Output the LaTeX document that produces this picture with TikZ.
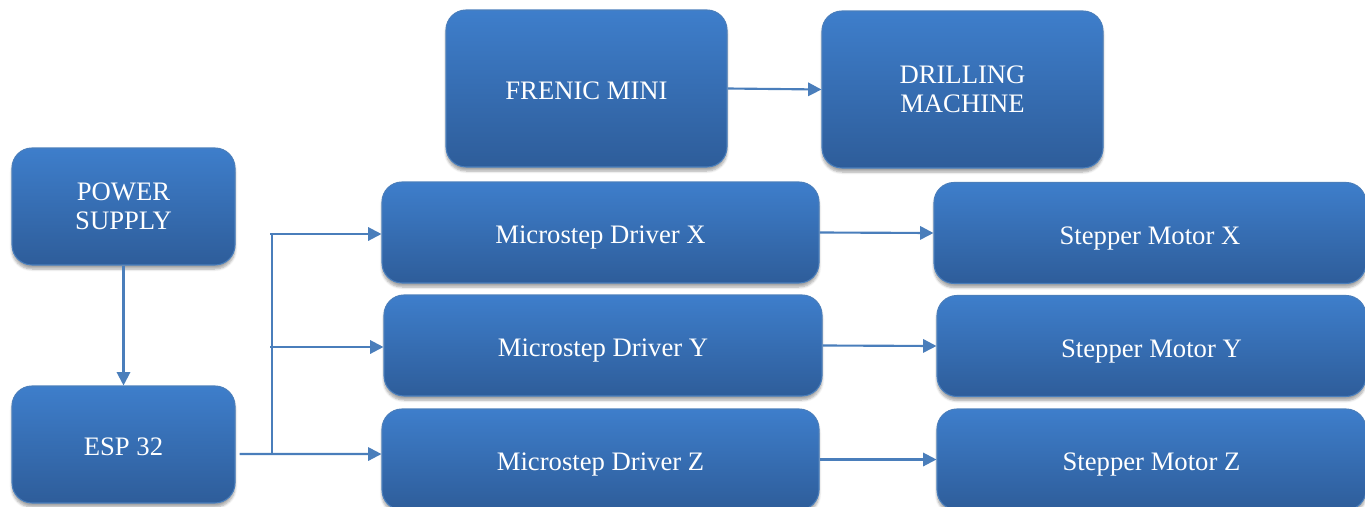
\documentclass[tikz,border=0pt]{standalone}
\usepackage{fontspec}
\setmainfont{Liberation Serif}
\usetikzlibrary{arrows.meta,shadows.blur}
\definecolor{boxtop}{HTML}{3E7ECB}
\definecolor{boxbot}{HTML}{2E5D9A}
\definecolor{boxline}{HTML}{4A7EBB}
\definecolor{conn}{HTML}{4A7EBB}
\tikzset{
  box/.style={rectangle, rounded corners=15pt, draw=boxline, line width=0.8pt,
    top color=boxtop, bottom color=boxbot, text=white, align=center,
    font=\fontsize{20}{22}\selectfont, inner sep=0pt,
    blur shadow={shadow xshift=0pt, shadow yshift=-3pt, shadow blur steps=6, shadow opacity=35}},
  onebox/.style={box, text height=19.5pt, text depth=3pt},
  conline/.style={draw=conn, line width=1.6pt},
  arr/.style={conline, -{Triangle[length=10pt, width=10pt]}}
}
\begin{document}
\begin{tikzpicture}[x=0.75pt, y=-0.75pt]
\useasboundingbox (0,0) rectangle (1365,507);
% left column
\node[box, minimum width=167.25pt, minimum height=87.75pt] (ps) at (123.5,206.5) {POWER\\SUPPLY};
\node[onebox, minimum width=167.25pt, minimum height=87.75pt] (esp) at (123.5,444.5) {ESP 32};
% top row
\node[onebox, minimum width=210.75pt, minimum height=117.75pt] (fren) at (586.5,88.5) {FRENIC MINI};
\node[box, minimum width=210.75pt, minimum height=117.75pt] (drill) at (962.5,89.5) {DRILLING\\MACHINE};
% drivers
\node[onebox, minimum width=327.75pt, minimum height=75.75pt] (drvx) at (600.5,232.5) {Microstep Driver X};
\node[onebox, minimum width=328.5pt, minimum height=75.75pt] (drvy) at (603,345.5) {Microstep Driver Y};
\node[onebox, minimum width=327.75pt, minimum height=75.75pt] (drvz) at (600.5,459.5) {Microstep Driver Z};
% steppers
\node[onebox, minimum width=324pt, minimum height=75.75pt] (stx) at (1150,233) {Stepper Motor X};
\node[onebox, minimum width=321.75pt, minimum height=75.75pt] (sty) at (1151.5,346) {Stepper Motor Y};
\node[onebox, minimum width=321.75pt, minimum height=75.75pt] (stz) at (1151.5,459.5) {Stepper Motor Z};
% bus coordinates
\coordinate (bt) at (272,234);
\coordinate (bm) at (272,347);
\coordinate (bb) at (272,454);
% connectors
\draw[arr] (ps.south) -- (esp.north);
\draw[arr] ([xshift=3pt,yshift=-7.1pt]esp.east) -- ([yshift=4.1pt]drvz.west);
\draw[conline] (bb) -- (bt);
\draw[arr] ([xshift=-1.5pt]bt) -- (bt -| drvx.west);
\draw[arr] ([xshift=-1.5pt]bm) -- (bm -| drvy.west);
\draw[arr] (fren.east) -- (drill.west);
\draw[arr] (drvx.east) -- (stx.west);
\draw[arr] (drvy.east) -- (sty.west);
\draw[arr] (drvz.east) -- (stz.west);
\end{tikzpicture}
\end{document}
